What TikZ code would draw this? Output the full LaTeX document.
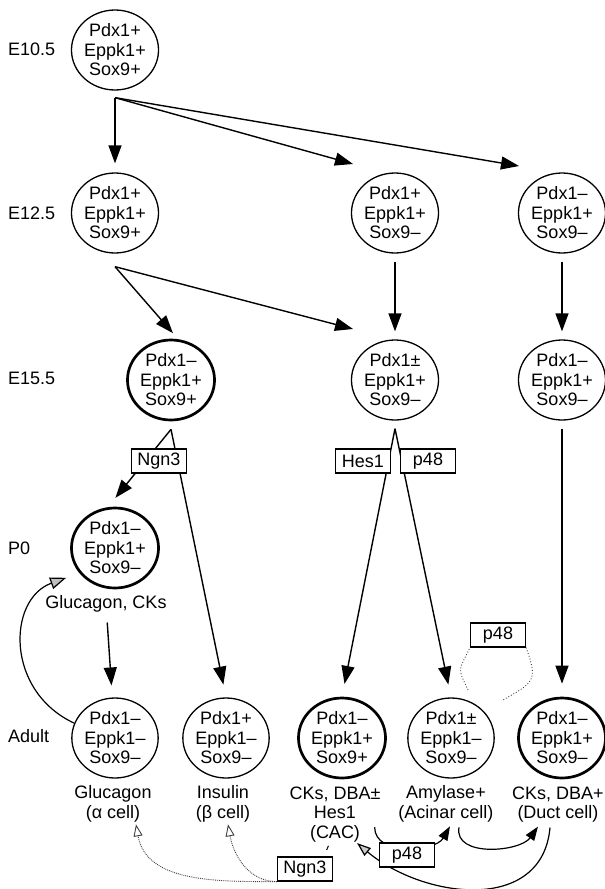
\documentclass[tikz,border=0pt]{standalone}
\usepackage{fontspec}
\setmainfont{Liberation Sans}
\usetikzlibrary{shapes.geometric, arrows.meta, positioning, backgrounds}

\newcommand{\cellfont}{\fontsize{18}{19.5}\selectfont}

\begin{document}
\begin{tikzpicture}[
  x=1pt, y=-1pt,
  cell/.style={ellipse, draw, line width=1.3pt, minimum width=84pt, minimum height=80pt, inner sep=0pt, align=center, font=\cellfont, fill=white},
  keycell/.style={cell, line width=2.7pt},
  stage/.style={anchor=west, inner sep=0pt, font=\cellfont},
  note/.style={inner sep=0pt, align=center, font=\cellfont},
  gene/.style={rectangle, draw, line width=1.2pt, minimum width=55pt, minimum height=24pt, inner sep=2pt, font=\cellfont, fill=white},
  arrow/.style={-{Triangle[length=18pt, width=13pt]}, line width=1.4pt},
  smallarrow/.style={-{Triangle[length=14pt, width=10pt]}, line width=1.2pt},
  fate/.style={-{Triangle[open, length=12pt, width=9pt]}, densely dotted, line width=0.9pt, black!75},
  loopline/.style={dotted, line width=0.9pt, black!75}
]
  \useasboundingbox (0,0) rectangle (605,889);

  % stages
  \node[stage] (e105) at (8,49) {E10.5};
  \node[stage] (e125) at (8,213) {E12.5};
  \node[stage] (e155) at (8,378) {E15.5};
  \node[stage] (p0lab) at (8,548) {P0};
  \node[stage] (adlab) at (8,736) {Adult};

  % cells
  \node[cell] (a105) at (115,50) {Pdx1+\\Eppk1+\\Sox9+};
  \node[cell] (a125) at (115,213) {Pdx1+\\Eppk1+\\Sox9+};
  \node[cell] (b125) at (395,213) {Pdx1+\\Eppk1+\\Sox9–};
  \node[cell] (c125) at (562,213) {Pdx1–\\Eppk1+\\Sox9–};
  \node[keycell] (a155) at (171,380) {Pdx1–\\Eppk1+\\Sox9+};
  \node[cell] (b155) at (395,380) {Pdx1±\\Eppk1+\\Sox9–};
  \node[cell] (c155) at (562,380) {Pdx1–\\Eppk1+\\Sox9–};
  \node[keycell] (p0) at (115,548) {Pdx1–\\Eppk1+\\Sox9–};
  \node[cell] (glu) at (115,738) {Pdx1–\\Eppk1–\\Sox9–};
  \node[cell] (ins) at (226,738) {Pdx1+\\Eppk1–\\Sox9–};
  \node[keycell] (cac) at (342,738) {Pdx1–\\Eppk1+\\Sox9+};
  \node[cell] (aci) at (451,738) {Pdx1±\\Eppk1–\\Sox9–};
  \node[keycell] (duct) at (562,738) {Pdx1–\\Eppk1+\\Sox9–};

  % markers
  \node[note, below=6pt of p0, xshift=-9pt] (lp0) {Glucagon, CKs};
  \node[note, below=7pt of glu, xshift=-2pt] (lglu) {Glucagon\\(α cell)};
  \node[note, below=7pt of ins, xshift=-3pt] (lins) {Insulin\\(β cell)};
  \node[note, below=7pt of cac, xshift=-7pt] (lcac) {CKs, DBA±\\Hes1\\(CAC)};
  \node[note, below=7pt of aci, xshift=-5pt] (laci) {Amylase+\\(Acinar cell)};
  \node[note, below=7pt of duct, xshift=-4pt] (lduct) {CKs, DBA+\\(Duct cell)};

  % factors
  \node[gene] (ngn3a) at (159,461) {Ngn3};
  \node[gene] (hes1) at (363,461) {Hes1};
  \node[gene] (p48a) at (428,461) {p48};
  \node[gene] (p48b) at (498,635) {p48};
  \node[gene] (p48c) at (407,855) {p48};
  \node[gene] (ngn3b) at (305,869) {Ngn3};

  \begin{scope}[on background layer]
    \coordinate (s105) at ([yshift=-7pt]a105.south);
    \coordinate (s125) at ([yshift=-13pt]a125.south);
    \coordinate (s155) at ([yshift=-8pt]a155.south);
    \coordinate (h155) at ([yshift=-8pt]b155.south);
    \coordinate (t2) at (353,164);
    \coordinate (t3) at (519,166);
    \coordinate (t4) at (353,329);
    \coordinate (lpa) at (468,690);
    \coordinate (lpb) at (503,700);

    \draw[arrow, shorten >=9pt] (s105) -- (a125.north);
    \draw[arrow] (s105) -- (t2);
    \draw[arrow] (s105) -- (t3);
    \draw[arrow, shorten >=8pt] (s125) -- (a155.80);
    \draw[arrow] (s125) -- (t4);
    \draw[arrow, shorten <=8pt, shorten >=8pt] (b125) -- (b155);
    \draw[arrow, shorten <=8pt, shorten >=8pt] (c125) -- (c155);

    \draw[arrow, shorten >=12pt] (s155) -- (p0.100);
    \draw[arrow, shorten >=13pt] (s155) -- (ins.north);
    \draw[arrow, shorten >=13pt] (h155) -- (cac.north);
    \draw[arrow, shorten >=13pt] (h155) -- (aci.north);
    \draw[arrow, shorten <=8pt, shorten >=13pt] (c155) -- (duct);
    \draw[arrow, shorten <=10pt, shorten >=12pt] (lp0) -- (glu);

    \draw[-{Triangle[length=16pt, width=12pt, fill=gray!50]}, line width=1.2pt, shorten >=14pt]
      (glu.160) to[out=155, in=200, looseness=1.3] (p0.215);

    \draw[loopline] (lpa) to[out=115, in=-115, looseness=1.6] (p48b.south west);
    \draw[loopline] (p48b.south east) to[out=-70, in=30, looseness=1.6] (lpb);

    \draw[smallarrow] ([xshift=-6pt, yshift=-13pt]lcac.east) to[out=-90, in=240] ([xshift=4pt, yshift=-4pt]laci.south);
    \draw[smallarrow] ([xshift=13pt, yshift=-5pt]laci.south) to[out=-100, in=235] ([xshift=-20pt, yshift=-4pt]lduct.south);
    \draw[-{Triangle[length=14pt, width=10pt, fill=gray!40]}, line width=1.2pt]
      ([xshift=-8pt, yshift=-5pt]lduct.south) to[out=-95, in=-40, looseness=1.15] ([xshift=22pt, yshift=-1pt]lcac.south);

    \draw[line width=1pt, shorten <=7pt, shorten >=4pt] ([xshift=19pt]ngn3b.north) -- ([xshift=-5pt]lcac.south);
    \draw[fate] (ngn3b.south west) to[out=180, in=-80] ([xshift=23pt, yshift=-2pt]lglu.south);
    \draw[fate] (ngn3b.south west) to[out=180, in=-80] ([xshift=5pt, yshift=-2pt]lins.south);
  \end{scope}
\end{tikzpicture}
\end{document}
